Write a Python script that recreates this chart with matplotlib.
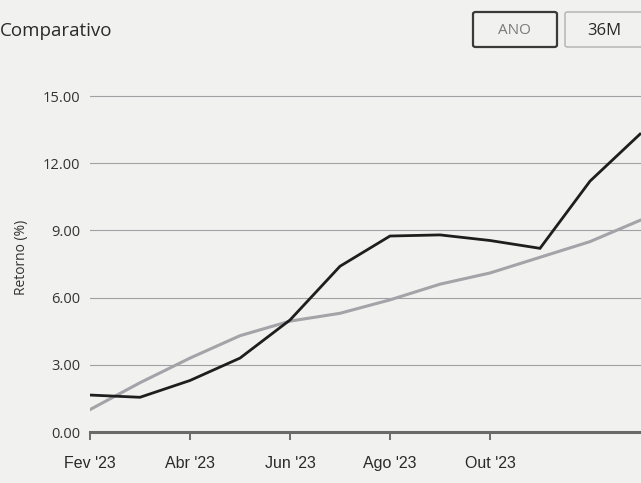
import matplotlib
matplotlib.use("Agg")
import matplotlib.pyplot as plt
from matplotlib.patches import FancyBboxPatch

months = ["Fev '23", "Mar '23", "Abr '23", "Mai '23", "Jun '23", "Jul '23",
          "Ago '23", "Set '23", "Out '23", "Nov '23", "Dez '23", "Jan '24"]
fund = [1.65, 1.55, 2.3, 3.3, 5.0, 7.4, 8.75, 8.8, 8.55, 8.2, 11.2, 13.3]
bench = [1.0, 2.2, 3.3, 4.3, 4.95, 5.3, 5.9, 6.6, 7.1, 7.8, 8.5, 9.45]
tick_idx = [0, 2, 4, 6, 8]
tick_labels = ["Fev '23", "Abr '23", "Jun '23", "Ago '23", "Out '23"]
yticks = [0, 3, 6, 9, 12, 15]

W, H = 641, 483
bg = "#f1f1ef"
fig = plt.figure(figsize=(W / 100, H / 100), dpi=100, facecolor=bg)

left, right = 90, 641
bottom, top = 432, 82.6
ax = fig.add_axes([left / W, 1 - bottom / H, (right - left) / W, (bottom - top) / H])
ax.set_facecolor(bg)

x = list(range(len(months)))
ax.plot(x, bench, color="#a3a3a8", lw=2.2, zorder=3, solid_joinstyle="miter")
ax.plot(x, fund, color="#1e1e1e", lw=2.0, zorder=4, solid_joinstyle="miter")

ax.set_xlim(0, 11.02)
ax.set_ylim(0, 15.6)
ax.set_yticks(yticks)
ax.set_yticklabels([f"{v:.2f}" for v in yticks], fontfamily="Open Sans", fontsize=10.5, color="#333333")
ax.set_xticks(tick_idx)
ax.set_xticklabels(tick_labels, fontfamily="Liberation Sans", fontsize=11.5, color="#2a2a2a")
ax.tick_params(axis="y", length=0, pad=7)
ax.tick_params(axis="x", length=6, width=1.2, color="#555555", pad=11)
for s in ["top", "right", "left"]:
    ax.spines[s].set_visible(False)
ax.spines["bottom"].set_color("#6a6a6a")
ax.spines["bottom"].set_linewidth(2.2)
ax.grid(axis="y", color="#a0a0a5", lw=0.8)
ax.grid(axis="x", visible=False)
ax.set_axisbelow(True)
ax.set_ylabel("Retorno (%)", fontfamily="Open Sans", fontsize=10, color="#333333", labelpad=10)

fig.text(0 / W, 1 - 31 / H, "Comparativo", fontfamily="Open Sans", fontsize=13.5,
         color="#2a2a2a", va="center", ha="left")

# Buttons
b1 = FancyBboxPatch((473 / W, 1 - 47 / H), 84 / W, 35 / H,
                    boxstyle="round,pad=0,rounding_size=0.004", transform=fig.transFigure,
                    facecolor=bg, edgecolor="#3a3a3a", lw=1.6)
b2 = FancyBboxPatch((565 / W, 1 - 47 / H), 80 / W, 35 / H,
                    boxstyle="round,pad=0,rounding_size=0.004", transform=fig.transFigure,
                    facecolor=bg, edgecolor="#b0b0b0", lw=1.0)
fig.patches.extend([b1, b2])
fig.text(514 / W, 1 - 30 / H, "ANO", fontfamily="Open Sans", fontsize=11,
         color="#7a7a7a", ha="center", va="center")
fig.text(604 / W, 1 - 31 / H, "36M", fontfamily="Open Sans", fontsize=12,
         color="#2a2a2a", ha="center", va="center")

fig.savefig("out.png", dpi=100, facecolor=bg)
